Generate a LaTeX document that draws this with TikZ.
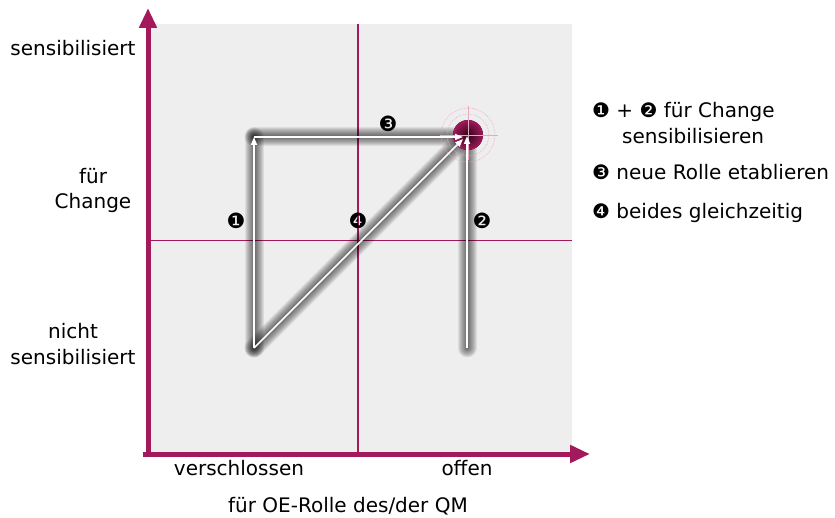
\documentclass[tikz,border=0pt]{standalone}
\usepackage{fontspec}
\setmainfont{DejaVu Sans}
\usetikzlibrary{arrows.meta,shadings}
\definecolor{crim}{HTML}{A3195B}
\definecolor{bggray}{HTML}{EDEEED}
\definecolor{pinkl}{HTML}{E6A9C2}
\tikzset{
  lbl/.style={font=\fontsize{20}{24}\selectfont, inner sep=0pt, text=black},
  num/.style={font=\fontsize{21}{24}\selectfont, inner sep=0pt},
  axis/.style={crim, line width=5pt, -{Triangle[length=20pt,width=17pt]}},
  grid/.style={crim, line width=1.1pt},
  glow/.style={line cap=round, line join=miter, black, opacity=0.075},
  wline/.style={white, line width=1.6pt, -{Triangle[length=8pt,width=6pt]}},
}
\newcommand{\glowpath}[2]{%
  \foreach \w in {19,17,15,13,11,9,7,5,3}{%
    \draw[glow, line width=\w pt] (#1) -- (#2);
  }%
}
\begin{document}
\begin{tikzpicture}[x=1pt,y=-1pt]
\useasboundingbox (0,0) rectangle (835,518);
% background panel
\fill[bggray] (148,24) rectangle (572,452);
% grid lines
\coordinate (gt) at (358,24);
\coordinate (gb) at (358,452);
\coordinate (gl) at (148,240.5);
\coordinate (gr) at (572,240.5);
\draw[grid] (gt) -- (gb);
\draw[grid] (gl) -- (gr);
% path points
\coordinate (A) at (254,348);
\coordinate (B) at (254,137);
\coordinate (Ct) at (463,137);
\coordinate (Cd) at (463,139);
\coordinate (D) at (467,348);
\coordinate (Cr) at (467,136);
% glows
\glowpath{A}{B}
\glowpath{B}{Ct}
\glowpath{A}{Cd}
\glowpath{D}{Cr}
% target
\coordinate (T) at (468,135);
\fill[inner color=black!75!crim, outer color=crim] (T) circle (15);
\draw[pinkl, densely dotted, line width=0.6pt] (T) circle (21);
\draw[pinkl, densely dotted, line width=0.6pt] (T) circle (27);
\coordinate (hx1) at (440,135);
\coordinate (hx2) at (498,135);
\coordinate (hy1) at (468,106);
\coordinate (hy2) at (468,160);
\draw[pinkl, line width=0.7pt] (hx1) -- (hx2);
\draw[pinkl, line width=0.7pt] (hy1) -- (hy2);
% white lines
\draw[wline] (A) -- (B);
\draw[wline] (B) -- (Ct);
\draw[wline] (A) -- (Cd);
\draw[wline] (D) -- (Cr);
% axes
\coordinate (O1) at (148,456);
\coordinate (Ytip) at (148,8);
\coordinate (O2) at (143,454);
\coordinate (Xtip) at (590,454);
\draw[axis] (O1) -- (Ytip);
\draw[axis] (O2) -- (Xtip);
% step numbers
\node[num] (n1) at (236,221) {❶};
\node[num] (n4) at (358,221) {❹};
\node[num] (n2) at (482,221) {❷};
\node[num] (n3) at (388,124) {❸};
% axis labels
\node[lbl] (ys) at (73,48) {sensibilisiert};
\node[lbl, align=center] (yc) at (93,190) {für\\[1pt]Change};
\node[lbl, align=center] (yn) at (73,344) {nicht\\[2pt]sensibilisiert};
\node[lbl] (xv) at (239,468) {verschlossen};
\node[lbl] (xo) at (467,468) {offen};
\node[lbl] (xt) at (348,506) {für OE-Rolle des/der QM};
% legend
\node[lbl, anchor=west] (l1) at (592,112) {❶ + ❷ für Change};
\node[lbl, anchor=west] (l1b) at (622,136) {sensibilisieren};
\node[lbl, anchor=west] (l2) at (592,172) {❸ neue Rolle etablieren};
\node[lbl, anchor=west] (l3) at (592,213) {❹ beides gleichzeitig};
\end{tikzpicture}
\end{document}
